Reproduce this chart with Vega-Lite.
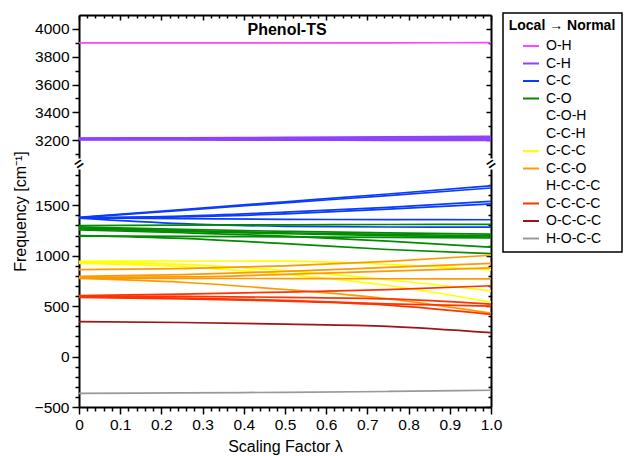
{
  "$schema": "https://vega.github.io/schema/vega-lite/v6.json",
  "width": 412,
  "height": 392,
  "autosize": {"type": "none"},
  "padding": {"left": 79, "top": 15, "right": 149, "bottom": 49},
  "config": {
    "view": {"stroke": null},
    "font": "Liberation Sans",
    "axis": {
      "grid": false,
      "domainColor": "#000000",
      "domainWidth": 2,
      "tickColor": "#000000",
      "tickWidth": 1.5,
      "labelColor": "#000000",
      "labelFont": "Liberation Sans",
      "labelFontSize": 15.5,
      "titleFont": "Liberation Sans",
      "titleFontSize": 16,
      "titleFontWeight": "normal",
      "titleColor": "#000000"
    },
    "legend": {"strokeWidth": 1.5}
  },
  "datasets": {
    "lines": [
      {"g":"O-H","s":"OH","l":0,"f":3899},{"g":"O-H","s":"OH","l":0.25,"f":3899},{"g":"O-H","s":"OH","l":0.5,"f":3900},{"g":"O-H","s":"OH","l":0.75,"f":3900},{"g":"O-H","s":"OH","l":1,"f":3901},
      {"g":"C-H","s":"CH1","l":0,"f":3215},{"g":"C-H","s":"CH1","l":0.25,"f":3217},{"g":"C-H","s":"CH1","l":0.5,"f":3220},{"g":"C-H","s":"CH1","l":0.75,"f":3224},{"g":"C-H","s":"CH1","l":1,"f":3228},
      {"g":"C-H","s":"CH2","l":0,"f":3212},{"g":"C-H","s":"CH2","l":0.25,"f":3213},{"g":"C-H","s":"CH2","l":0.5,"f":3215},{"g":"C-H","s":"CH2","l":0.75,"f":3217},{"g":"C-H","s":"CH2","l":1,"f":3220},
      {"g":"C-H","s":"CH3","l":0,"f":3208},{"g":"C-H","s":"CH3","l":0.25,"f":3209},{"g":"C-H","s":"CH3","l":0.5,"f":3209},{"g":"C-H","s":"CH3","l":0.75,"f":3210},{"g":"C-H","s":"CH3","l":1,"f":3211},
      {"g":"C-H","s":"CH4","l":0,"f":3205},{"g":"C-H","s":"CH4","l":0.25,"f":3205},{"g":"C-H","s":"CH4","l":0.5,"f":3205},{"g":"C-H","s":"CH4","l":0.75,"f":3204},{"g":"C-H","s":"CH4","l":1,"f":3204},
      {"g":"C-H","s":"CH5","l":0,"f":3202},{"g":"C-H","s":"CH5","l":0.25,"f":3201},{"g":"C-H","s":"CH5","l":0.5,"f":3200},{"g":"C-H","s":"CH5","l":0.75,"f":3199},{"g":"C-H","s":"CH5","l":1,"f":3198},
      {"g":"C-C","s":"B1","l":0,"f":1380},{"g":"C-C","s":"B1","l":0.25,"f":1458},{"g":"C-C","s":"B1","l":0.5,"f":1535},{"g":"C-C","s":"B1","l":0.75,"f":1612},{"g":"C-C","s":"B1","l":1,"f":1693},
      {"g":"C-C","s":"B2","l":0,"f":1378},{"g":"C-C","s":"B2","l":0.25,"f":1450},{"g":"C-C","s":"B2","l":0.5,"f":1524},{"g":"C-C","s":"B2","l":0.75,"f":1597},{"g":"C-C","s":"B2","l":1,"f":1672},
      {"g":"C-C","s":"B3","l":0,"f":1376},{"g":"C-C","s":"B3","l":0.25,"f":1392},{"g":"C-C","s":"B3","l":0.5,"f":1432},{"g":"C-C","s":"B3","l":0.75,"f":1480},{"g":"C-C","s":"B3","l":1,"f":1540},
      {"g":"C-C","s":"B4","l":0,"f":1374},{"g":"C-C","s":"B4","l":0.25,"f":1384},{"g":"C-C","s":"B4","l":0.5,"f":1416},{"g":"C-C","s":"B4","l":0.75,"f":1462},{"g":"C-C","s":"B4","l":1,"f":1515},
      {"g":"C-C","s":"B5","l":0,"f":1376},{"g":"C-C","s":"B5","l":0.25,"f":1367},{"g":"C-C","s":"B5","l":0.5,"f":1361},{"g":"C-C","s":"B5","l":0.75,"f":1358},{"g":"C-C","s":"B5","l":1,"f":1357},
      {"g":"C-C","s":"B6","l":0,"f":1373},{"g":"C-C","s":"B6","l":0.25,"f":1318},{"g":"C-C","s":"B6","l":0.5,"f":1292},{"g":"C-C","s":"B6","l":0.75,"f":1285},{"g":"C-C","s":"B6","l":1,"f":1283},
      {"g":"C-O","s":"G1","l":0,"f":1300},{"g":"C-O","s":"G1","l":0.25,"f":1304},{"g":"C-O","s":"G1","l":0.5,"f":1307},{"g":"C-O","s":"G1","l":0.75,"f":1310},{"g":"C-O","s":"G1","l":1,"f":1312},
      {"g":"C-O","s":"G2","l":0,"f":1287},{"g":"C-O","s":"G2","l":0.25,"f":1262},{"g":"C-O","s":"G2","l":0.5,"f":1242},{"g":"C-O","s":"G2","l":0.75,"f":1226},{"g":"C-O","s":"G2","l":1,"f":1215},
      {"g":"C-O","s":"G3","l":0,"f":1277},{"g":"C-O","s":"G3","l":0.25,"f":1250},{"g":"C-O","s":"G3","l":0.5,"f":1228},{"g":"C-O","s":"G3","l":0.75,"f":1211},{"g":"C-O","s":"G3","l":1,"f":1198},
      {"g":"C-O","s":"G4","l":0,"f":1265},{"g":"C-O","s":"G4","l":0.25,"f":1240},{"g":"C-O","s":"G4","l":0.5,"f":1218},{"g":"C-O","s":"G4","l":0.75,"f":1200},{"g":"C-O","s":"G4","l":1,"f":1185},
      {"g":"C-O","s":"G5","l":0,"f":1255},{"g":"C-O","s":"G5","l":0.25,"f":1228},{"g":"C-O","s":"G5","l":0.5,"f":1195},{"g":"C-O","s":"G5","l":0.75,"f":1145},{"g":"C-O","s":"G5","l":1,"f":1085},
      {"g":"C-O","s":"G6","l":0,"f":1200},{"g":"C-O","s":"G6","l":0.25,"f":1172},{"g":"C-O","s":"G6","l":0.5,"f":1120},{"g":"C-O","s":"G6","l":0.75,"f":1062},{"g":"C-O","s":"G6","l":1,"f":1020},
      {"g":"C-O","s":"G7","l":0,"f":1195},{"g":"C-O","s":"G7","l":0.25,"f":1192},{"g":"C-O","s":"G7","l":0.5,"f":1187},{"g":"C-O","s":"G7","l":0.75,"f":1182},{"g":"C-O","s":"G7","l":1,"f":1178},
      {"g":"C-C-C","s":"Y1","l":0,"f":945},{"g":"C-C-C","s":"Y1","l":0.25,"f":948},{"g":"C-C-C","s":"Y1","l":0.5,"f":947},{"g":"C-C-C","s":"Y1","l":0.75,"f":915},{"g":"C-C-C","s":"Y1","l":1,"f":860},
      {"g":"C-C-C","s":"Y2","l":0,"f":935},{"g":"C-C-C","s":"Y2","l":0.25,"f":915},{"g":"C-C-C","s":"Y2","l":0.5,"f":852},{"g":"C-C-C","s":"Y2","l":0.75,"f":762},{"g":"C-C-C","s":"Y2","l":1,"f":652},
      {"g":"C-C-C","s":"Y3","l":0,"f":925},{"g":"C-C-C","s":"Y3","l":0.25,"f":893},{"g":"C-C-C","s":"Y3","l":0.5,"f":815},{"g":"C-C-C","s":"Y3","l":0.75,"f":705},{"g":"C-C-C","s":"Y3","l":1,"f":540},
      {"g":"C-C-O","s":"O1","l":0,"f":862},{"g":"C-C-O","s":"O1","l":0.25,"f":872},{"g":"C-C-O","s":"O1","l":0.5,"f":900},{"g":"C-C-O","s":"O1","l":0.75,"f":945},{"g":"C-C-O","s":"O1","l":1,"f":1005},
      {"g":"C-C-O","s":"O2","l":0,"f":795},{"g":"C-C-O","s":"O2","l":0.25,"f":812},{"g":"C-C-O","s":"O2","l":0.5,"f":845},{"g":"C-C-O","s":"O2","l":0.75,"f":885},{"g":"C-C-O","s":"O2","l":1,"f":925},
      {"g":"C-C-O","s":"O3","l":0,"f":788},{"g":"C-C-O","s":"O3","l":0.25,"f":790},{"g":"C-C-O","s":"O3","l":0.5,"f":815},{"g":"C-C-O","s":"O3","l":0.75,"f":848},{"g":"C-C-O","s":"O3","l":1,"f":880},
      {"g":"C-C-O","s":"O4","l":0,"f":780},{"g":"C-C-O","s":"O4","l":0.25,"f":775},{"g":"C-C-O","s":"O4","l":0.5,"f":774},{"g":"C-C-O","s":"O4","l":0.75,"f":772},{"g":"C-C-O","s":"O4","l":1,"f":770},
      {"g":"C-C-O","s":"O5","l":0,"f":775},{"g":"C-C-O","s":"O5","l":0.25,"f":737},{"g":"C-C-O","s":"O5","l":0.5,"f":665},{"g":"C-C-O","s":"O5","l":0.75,"f":572},{"g":"C-C-O","s":"O5","l":1,"f":430},
      {"g":"C-C-C-C","s":"R1","l":0,"f":605},{"g":"C-C-C-C","s":"R1","l":0.25,"f":620},{"g":"C-C-C-C","s":"R1","l":0.5,"f":640},{"g":"C-C-C-C","s":"R1","l":0.75,"f":663},{"g":"C-C-C-C","s":"R1","l":1,"f":702},
      {"g":"C-C-C-C","s":"R2","l":0,"f":600},{"g":"C-C-C-C","s":"R2","l":0.25,"f":597},{"g":"C-C-C-C","s":"R2","l":0.5,"f":588},{"g":"C-C-C-C","s":"R2","l":0.75,"f":572},{"g":"C-C-C-C","s":"R2","l":1,"f":520},
      {"g":"C-C-C-C","s":"R3","l":0,"f":593},{"g":"C-C-C-C","s":"R3","l":0.25,"f":580},{"g":"C-C-C-C","s":"R3","l":0.5,"f":558},{"g":"C-C-C-C","s":"R3","l":0.75,"f":522},{"g":"C-C-C-C","s":"R3","l":1,"f":500},
      {"g":"C-C-C-C","s":"R4","l":0,"f":586},{"g":"C-C-C-C","s":"R4","l":0.25,"f":573},{"g":"C-C-C-C","s":"R4","l":0.5,"f":550},{"g":"C-C-C-C","s":"R4","l":0.75,"f":510},{"g":"C-C-C-C","s":"R4","l":1,"f":418},
      {"g":"O-C-C-C","s":"D","l":0,"f":347},{"g":"O-C-C-C","s":"D","l":0.25,"f":338},{"g":"O-C-C-C","s":"D","l":0.5,"f":322},{"g":"O-C-C-C","s":"D","l":0.75,"f":300},{"g":"O-C-C-C","s":"D","l":1,"f":237},
      {"g":"H-O-C-C","s":"H","l":0,"f":-364},{"g":"H-O-C-C","s":"H","l":0.25,"f":-360},{"g":"H-O-C-C","s":"H","l":0.5,"f":-354},{"g":"H-O-C-C","s":"H","l":0.75,"f":-346},{"g":"H-O-C-C","s":"H","l":1,"f":-334}
    ],
    "breaks": [
      {"l": 0, "f": 2465, "t": "="},
      {"l": 1, "f": 2465, "t": "="}
    ],
    "label": [
      {"l": 0.409, "f": 3993, "t": "Phenol-TS"}
    ]
  },
  "layer": [
    {
      "data": {"name": "lines"},
      "mark": {"type": "line", "interpolate": "monotone", "strokeWidth": 1.7},
      "encoding": {
        "x": {
          "field": "l", "type": "quantitative",
          "scale": {"domain": [0, 1], "nice": false, "zero": false},
          "axis": {
            "orient": "bottom",
            "title": "Scaling Factor λ",
            "titlePadding": 6,
            "values": [0,0.02,0.04,0.06,0.08,0.1,0.12,0.14,0.16,0.18,0.2,0.22,0.24,0.26,0.28,0.3,0.32,0.34,0.36,0.38,0.4,0.42,0.44,0.46,0.48,0.5,0.52,0.54,0.56,0.58,0.6,0.62,0.64,0.66,0.68,0.7,0.72,0.74,0.76,0.78,0.8,0.82,0.84,0.86,0.88,0.9,0.92,0.94,0.96,0.98,1],
            "labelExpr": "abs(datum.value*10 - round(datum.value*10)) < 0.001 ? (datum.value == 0 ? '0' : format(datum.value, '.1f')) : ''",
            "tickSize": {"condition": {"test": "abs(datum.value*10 - round(datum.value*10)) < 0.001", "value": 7}, "value": 4},
            "labelPadding": 3,
            "labelFlush": false,
            "labelOverlap": false
          }
        },
        "y": {
          "field": "f", "type": "quantitative",
          "scale": {"domain": [-500, 1880, 3050, 4100], "range": [392, 152, 146, 0], "nice": false, "zero": false},
          "axis": {
            "orient": "left",
            "title": "Frequency [cm⁻¹]",
            "titlePadding": 6,
            "values": [-500,-400,-300,-200,-100,0,100,200,300,400,500,600,700,800,900,1000,1100,1200,1300,1400,1500,1600,1700,1800,3100,3200,3300,3400,3500,3600,3700,3800,3900,4000],
            "labelExpr": "(datum.value < 2000 && datum.value % 500 == 0) || (datum.value > 3000 && datum.value % 200 == 0) ? format(datum.value, 'd') : ''",
            "tickSize": {"condition": {"test": "(datum.value < 2000 && datum.value % 500 == 0) || (datum.value > 3000 && datum.value % 200 == 0)", "value": 7}, "value": 4},
            "labelPadding": 3,
            "labelOverlap": false
          }
        },
        "color": {
          "field": "g", "type": "nominal",
          "scale": {
            "domain": ["O-H","C-H","C-C","C-O","C-O-H","C-C-H","C-C-C","C-C-O","H-C-C-C","C-C-C-C","O-C-C-C","H-O-C-C"],
            "range": ["#ff44ff","#9040ff","#0a3cff","#008c00","transparent","transparent","#ffff00","#ff9900","transparent","#ff3300","#a01414","#999999"]
          },
          "legend": {
            "orient": "none",
            "legendX": 424,
            "legendY": -2,
            "title": "Local → Normal",
            "titleFont": "Liberation Sans",
            "titleFontSize": 14,
            "titleFontWeight": "bold",
            "titleColor": "#000000",
            "titleAnchor": "middle",
            "titlePadding": 4,
            "labelFont": "Liberation Sans",
            "labelFontSize": 14,
            "labelColor": "#000000",
            "labelOffset": 6,
            "symbolType": "stroke",
            "symbolStrokeWidth": 2,
            "symbolSize": 256,
            "rowPadding": 1.5,
            "padding": 6,
            "strokeColor": "#000000"
          }
        },
        "detail": {"field": "s", "type": "nominal"},
        "order": {"field": "l", "type": "quantitative"}
      }
    },
    {
      "data": {"name": "breaks"},
      "mark": {"type": "point", "shape": "square", "filled": true, "color": "#ffffff", "opacity": 1, "size": 120},
      "encoding": {
        "x": {
          "field": "l", "type": "quantitative",
          "scale": {"domain": [0, 1], "nice": false, "zero": false},
          "axis": {
            "orient": "top",
            "title": null,
            "labels": false,
            "values": [0,0.02,0.04,0.06,0.08,0.1,0.12,0.14,0.16,0.18,0.2,0.22,0.24,0.26,0.28,0.3,0.32,0.34,0.36,0.38,0.4,0.42,0.44,0.46,0.48,0.5,0.52,0.54,0.56,0.58,0.6,0.62,0.64,0.66,0.68,0.7,0.72,0.74,0.76,0.78,0.8,0.82,0.84,0.86,0.88,0.9,0.92,0.94,0.96,0.98,1],
            "tickSize": {"condition": {"test": "abs(datum.value*10 - round(datum.value*10)) < 0.001", "value": -5}, "value": -3}
          }
        },
        "y": {
          "field": "f", "type": "quantitative",
          "scale": {"domain": [-500, 1880, 3050, 4100], "range": [392, 152, 146, 0], "nice": false, "zero": false},
          "axis": {
            "orient": "right",
            "title": null,
            "labels": false,
            "values": [-500,-400,-300,-200,-100,0,100,200,300,400,500,600,700,800,900,1000,1100,1200,1300,1400,1500,1600,1700,1800,3100,3200,3300,3400,3500,3600,3700,3800,3900,4000],
            "tickSize": {"condition": {"test": "(datum.value < 2000 && datum.value % 500 == 0) || (datum.value > 3000 && datum.value % 200 == 0)", "value": -5}, "value": -3}
          }
        }
      }
    },
    {
      "data": {"name": "breaks"},
      "mark": {"type": "text", "font": "Liberation Sans", "fontSize": 15, "fontWeight": "bold", "angle": -35, "align": "center", "baseline": "middle", "color": "#000000"},
      "encoding": {
        "x": {"field": "l", "type": "quantitative", "axis": null},
        "y": {"field": "f", "type": "quantitative", "axis": null},
        "text": {"field": "t"}
      }
    },
    {
      "data": {"name": "label"},
      "mark": {"type": "text", "font": "Liberation Sans", "fontSize": 16, "fontWeight": "bold", "align": "left", "baseline": "middle", "color": "#000000"},
      "encoding": {
        "x": {"field": "l", "type": "quantitative", "axis": null},
        "y": {"field": "f", "type": "quantitative", "axis": null},
        "text": {"field": "t"}
      }
    }
  ],
  "resolve": {"axis": {"x": "independent", "y": "independent"}}
}
